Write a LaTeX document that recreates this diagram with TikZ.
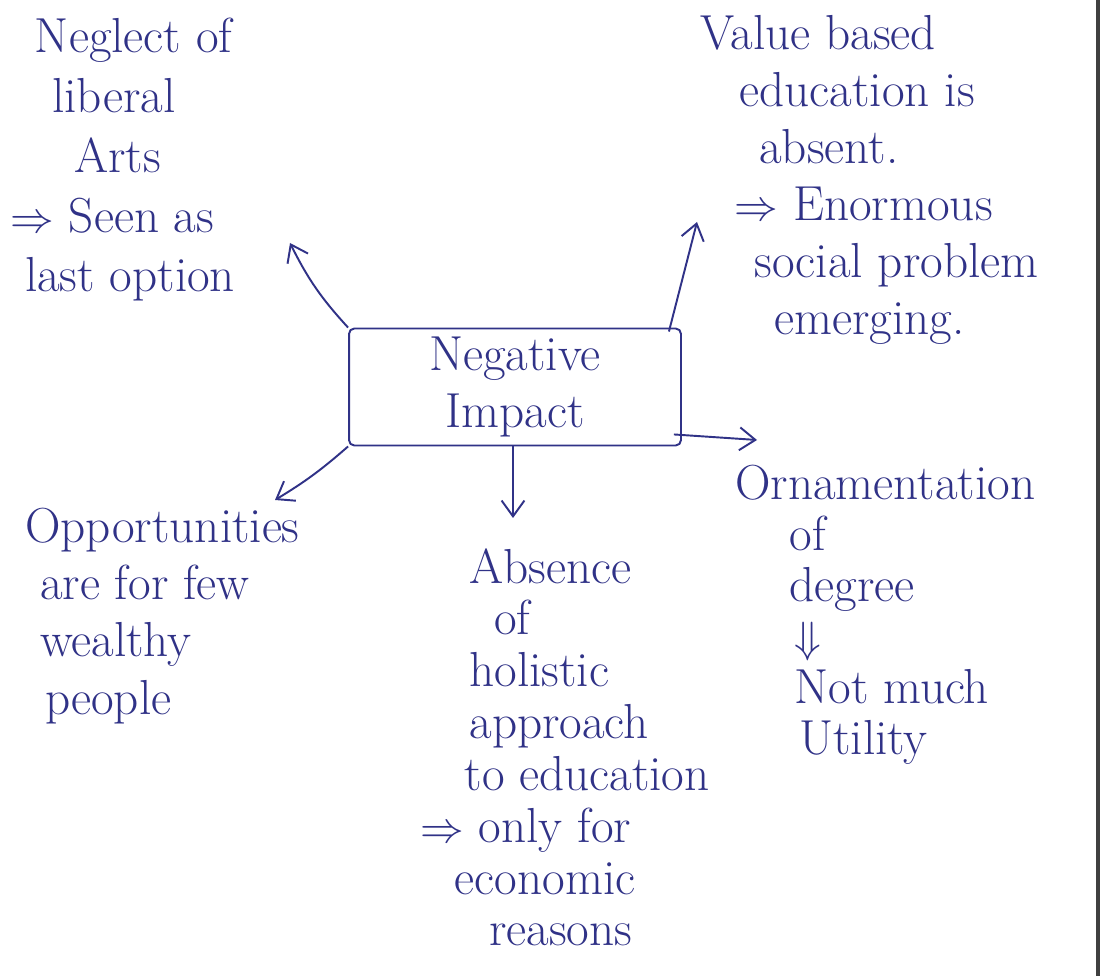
\documentclass[tikz,border=0pt]{standalone}
\usetikzlibrary{arrows.meta,calc}
\definecolor{ink}{RGB}{48,50,135}
\begin{document}
\begin{tikzpicture}[x=0.02cm,y=-0.02cm,
  txt/.style={inner sep=0pt,anchor=north west,align=left,text=ink,
    font=\fontsize{28}{#1}\selectfont},
  txt/.default=34,
  arr/.style={draw=ink,line width=1.1pt,-{Straight Barb[length=9pt,width=13pt]}},
  boxst/.style={draw=ink,line width=1.1pt,rounded corners=3pt,minimum width=6.64cm,
    minimum height=2.34cm,text=ink,align=center,font=\fontsize{28}{32}\selectfont}]
\useasboundingbox (0,0) rectangle (1103,976);
\fill[white] (0,0) rectangle (1103,976);
\draw[black!75,line width=2pt] (1098,0) -- (1098,976);

% centre box
\node[boxst] (box) at (515,387) {Negative\\Impact};

% text blocks
\node[txt=34] (neglect) at (10,18) {\hspace*{0.5em}Neglect of\\\hspace*{0.85em}liberal\\\hspace*{1.3em}Arts\\$\Rightarrow$ Seen as\\\hspace*{0.3em}last option};
\node[txt=32.5] (value) at (700,15) {Value based\\\hspace*{0.8em}education is\\\hspace*{1.2em}absent.\\\hspace*{0.7em}$\Rightarrow$ Enormous\\\hspace*{1.1em}social problem\\\hspace*{1.5em}emerging.};
\node[txt=32.5] (opp) at (25,508) {Opportunities\\\hspace*{0.3em}are for few\\\hspace*{0.3em}wealthy\\\hspace*{0.4em}people};
\node[txt=29.5] (absence) at (420,548) {\hspace*{1.0em}Absence\\\hspace*{1.5em}of\\\hspace*{1.0em}holistic\\\hspace*{1.0em}approach\\\hspace*{0.9em}to education\\$\Rightarrow$ only for\\\hspace*{0.7em}economic\\\hspace*{1.4em}reasons};
\node[txt=29] (orn) at (735,465) {Ornamentation\\\hspace*{1.1em}of\\\hspace*{1.1em}degree\\\hspace*{1.2em}$\Downarrow$\\\hspace*{1.2em}Not much\\\hspace*{1.3em}Utility};

% arrow ends
\coordinate (t1) at (290,243);
\coordinate (t2) at (697,222);
\coordinate (t3) at (275,500);
\coordinate (t4) at (513,518);
\coordinate (t5) at (757,440);
\coordinate (s2) at ($(box.north east)+(-13,4)$);
\coordinate (s5) at ($(box.south east)+(-8,-12)$);
\coordinate (s4) at ($(box.south)+(-2,0)$);

\draw[arr] (box.north west) to[bend left=8] (t1);
\draw[arr] (s2) -- (t2);
\draw[arr] (box.south west) to[bend left=5] (t3);
\draw[arr] (s4) -- (t4);
\draw[arr] (s5) -- (t5);
\end{tikzpicture}
\end{document}
